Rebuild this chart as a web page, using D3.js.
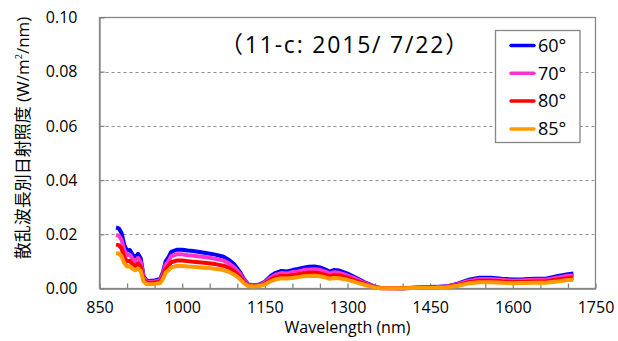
<!DOCTYPE html>
<html>
<head>
<meta charset="utf-8">
<script src="https://cdn.jsdelivr.net/npm/d3@7"></script>
<style>
  html, body { margin: 0; padding: 0; background: #fff; }
  svg { display: block; }
  text { font-family: "Open Sans", "Noto Sans CJK JP", sans-serif; fill: #000; }
</style>
</head>
<body>
<svg id="chart" width="618" height="341"></svg>
<script>
// Diffuse spectral irradiance by solar zenith angle
const wavelengths = [880,885,890,895,900,905,910,915,920,925,930,935,940,950,960,965,970,975,980,990,
  1000,1010,1020,1040,1060,1075,1085,1095,1105,1112,1120,1130,1140,1150,1160,1170,1180,1190,1200,1210,
  1220,1230,1240,1250,1260,1268,1275,1285,1300,1310,1320,1330,1340,1350,1360,1400,1440,1460,1480,1500,
  1510,1520,1540,1560,1580,1600,1620,1640,1660,1680,1700,1710];

const deg60 = [0.0225,0.0222,0.0205,0.0160,0.0140,0.0142,0.0125,0.0115,0.0128,0.0110,
  0.0045,0.0030,0.0028,0.0030,0.0035,0.0060,0.0100,0.0115,0.0135,0.0143,
  0.0143,0.0140,0.0138,0.0132,0.0125,0.0117,0.0105,0.0088,0.0060,0.0035,
  0.0015,0.0012,0.0015,0.0025,0.0045,0.0058,0.0065,0.0063,0.0068,0.0072,
  0.0077,0.0080,0.0081,0.0078,0.0070,0.0062,0.0068,0.0066,0.0055,0.0045,
  0.0035,0.0024,0.0015,0.0006,0.0002,0.0001,0.0005,0.0006,0.0008,0.0018,
  0.0025,0.0032,0.0040,0.0040,0.0036,0.0033,0.0034,0.0036,0.0036,0.0045,
  0.0053,0.0055];

const deg70 = [0.0198,0.0195,0.0180,0.0141,0.0123,0.0125,0.0110,0.0101,0.0113,0.0097,
  0.0040,0.0026,0.0025,0.0026,0.0031,0.0053,0.0088,0.0101,0.0119,0.0126,
  0.0126,0.0123,0.0121,0.0116,0.0110,0.0103,0.0092,0.0077,0.0053,0.0031,
  0.0013,0.0011,0.0013,0.0022,0.0040,0.0051,0.0057,0.0055,0.0060,0.0063,
  0.0068,0.0070,0.0071,0.0069,0.0062,0.0055,0.0060,0.0058,0.0048,0.0040,
  0.0031,0.0021,0.0013,0.0005,0.0002,0.0001,0.0004,0.0005,0.0007,0.0016,
  0.0022,0.0028,0.0035,0.0035,0.0032,0.0029,0.0030,0.0032,0.0032,0.0040,
  0.0047,0.0048];

const deg80 = [0.0162,0.0160,0.0148,0.0115,0.0101,0.0102,0.0090,0.0083,0.0092,0.0079,
  0.0032,0.0022,0.0020,0.0022,0.0025,0.0043,0.0072,0.0083,0.0097,0.0103,
  0.0103,0.0101,0.0099,0.0095,0.0090,0.0084,0.0076,0.0063,0.0043,0.0025,
  0.0011,0.0009,0.0011,0.0018,0.0032,0.0042,0.0047,0.0045,0.0049,0.0052,
  0.0055,0.0058,0.0058,0.0056,0.0050,0.0045,0.0049,0.0048,0.0040,0.0032,
  0.0025,0.0017,0.0011,0.0004,0.0001,0.0001,0.0004,0.0004,0.0006,0.0013,
  0.0018,0.0023,0.0029,0.0029,0.0026,0.0024,0.0024,0.0026,0.0026,0.0032,
  0.0038,0.0040];

const deg85 = [0.0130,0.0129,0.0119,0.0093,0.0081,0.0082,0.0073,0.0067,0.0074,0.0064,
  0.0026,0.0017,0.0016,0.0017,0.0020,0.0035,0.0058,0.0067,0.0078,0.0083,
  0.0083,0.0081,0.0080,0.0077,0.0073,0.0068,0.0061,0.0051,0.0035,0.0020,
  0.0009,0.0007,0.0009,0.0015,0.0026,0.0034,0.0038,0.0037,0.0039,0.0042,
  0.0045,0.0046,0.0047,0.0045,0.0041,0.0036,0.0039,0.0038,0.0032,0.0026,
  0.0020,0.0014,0.0009,0.0003,0.0001,0.0001,0.0003,0.0003,0.0005,0.0010,
  0.0015,0.0019,0.0023,0.0023,0.0021,0.0019,0.0020,0.0021,0.0021,0.0026,
  0.0031,0.0032];

const seriesNames = ["60°", "70°", "80°", "85°"];
const seriesColors = ["#0000ff", "#ff33cc", "#ff0000", "#ff9900"];
const seriesValues = [deg60, deg70, deg80, deg85];

const xTickLabels = [850, 1000, 1150, 1300, 1450, 1600, 1750];
const yTickLabels = [0, 0.02, 0.04, 0.06, 0.08, 0.10];

const titleText = "（11-c: 2015/ 7/22）";
const xTitle = "Wavelength (nm)";

const svg = d3.select("#chart");
const m = { left: 99.5, right: 595.5, top: 17.5, bottom: 288.5 };

const x = d3.scaleLinear().domain([850, 1750]).range([m.left, m.right]);
const y = d3.scaleLinear().domain([0, 0.10]).range([m.bottom, m.top]);

const axisColor = "#868686";

// dashed horizontal gridlines
svg.append("g")
  .selectAll("line")
  .data(yTickLabels.filter(v => v > 0 && v < 0.10))
  .join("line")
  .attr("x1", m.left).attr("x2", m.right)
  .attr("y1", d => Math.round(y(d)) + 0.5).attr("y2", d => Math.round(y(d)) + 0.5)
  .attr("stroke", "#8c8c8c").attr("stroke-width", 1)
  .attr("stroke-dasharray", "3,3");

// plot frame
svg.append("rect")
  .attr("x", m.left).attr("y", m.top)
  .attr("width", m.right - m.left).attr("height", m.bottom - m.top)
  .attr("fill", "none").attr("stroke", axisColor).attr("stroke-width", 1.3);

// x axis: minor ticks every 50 nm pointing inward, labels every 150 nm
const xAxis = d3.axisBottom(x)
  .tickValues(d3.range(850, 1751, 50))
  .tickSizeInner(-5).tickSizeOuter(0)
  .tickFormat(d => xTickLabels.includes(d) ? d : "");
const gx = svg.append("g").attr("transform", `translate(0,${m.bottom})`).call(xAxis);
gx.select(".domain").attr("stroke", axisColor).attr("stroke-width", 1.3);
gx.selectAll(".tick line").attr("stroke", axisColor).attr("stroke-width", 1.3);
gx.selectAll(".tick text")
  .attr("y", 13).attr("dy", "0.71em")
  .style("font-size", "16px");

// y axis
const yAxis = d3.axisLeft(y)
  .tickValues(yTickLabels)
  .tickSizeInner(-5).tickSizeOuter(0)
  .tickFormat(d3.format(".2f"));
const gy = svg.append("g").attr("transform", `translate(${m.left},0)`).call(yAxis);
gy.select(".domain").attr("stroke", axisColor).attr("stroke-width", 1.3);
gy.selectAll(".tick line").attr("stroke", axisColor).attr("stroke-width", 1.3);
gy.selectAll(".tick text")
  .attr("x", -22)
  .style("font-size", "16px");

// series lines, drawn so that the lowest angle sits underneath
const line = d3.line()
  .x((d, i) => x(wavelengths[i]))
  .y(d => y(d));

svg.append("g")
  .selectAll("path")
  .data(seriesValues)
  .join("path")
  .attr("d", d => line(d))
  .attr("fill", "none")
  .attr("stroke", (d, i) => seriesColors[i])
  .attr("stroke-width", 4)
  .attr("stroke-linejoin", "round");

// title
svg.append("text")
  .attr("x", 345).attr("y", 53)
  .attr("text-anchor", "middle")
  .style("font-size", "23px")
  .style("letter-spacing", "1.8px")
  .text(titleText);

// axis titles
svg.append("text")
  .attr("x", (m.left + m.right) / 2).attr("y", 333)
  .attr("text-anchor", "middle")
  .style("font-size", "16px")
  .text(xTitle);

const yt = svg.append("text")
  .attr("transform", "translate(29,138) rotate(-90)")
  .attr("text-anchor", "middle")
  .style("font-size", "17px");
yt.append("tspan").text("散乱波長別日射照度 (W/m");
yt.append("tspan").attr("dy", -7).style("font-size", "9px").text("2");
yt.append("tspan").attr("dy", 7).text("/nm)");

// legend
const lg = svg.append("g");
lg.append("rect")
  .attr("x", 495.5).attr("y", 30.5).attr("width", 84.5).attr("height", 112)
  .attr("fill", "#fff").attr("stroke", axisColor).attr("stroke-width", 1.3);
const rows = lg.selectAll("g.row")
  .data(seriesNames)
  .join("g")
  .attr("class", "row")
  .attr("transform", (d, i) => `translate(0,${45.5 + i * 27.8})`);
rows.append("line")
  .attr("x1", 511).attr("x2", 534)
  .attr("stroke", (d, i) => seriesColors[i])
  .attr("stroke-width", 3.5).attr("stroke-linecap", "round");
rows.append("text")
  .attr("x", 538).attr("y", 0).attr("dy", "0.35em")
  .style("font-size", "18px")
  .text(d => d);
</script>
</body>
</html>
